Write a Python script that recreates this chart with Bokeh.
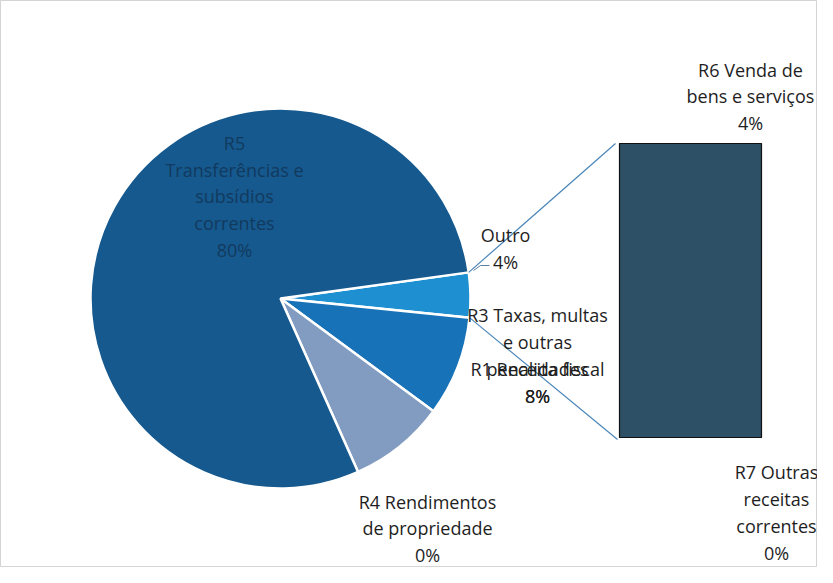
import math
from bokeh.plotting import figure
from bokeh.models import Range1d, ColumnDataSource
from bokeh.core.properties import value
from bokeh.embed import file_html
from bokeh.resources import INLINE

# ---- data ----
pie_categories = ["Outro", "R3 Taxas, multas e outras penalidades", "R1 Receita fiscal",
                  "R4 Rendimentos de propriedade", "R5 Transferências e subsídios correntes"]
pie_values = [3.8, 8.5, 8.2, 0.0, 79.5]
pie_colors = ["#1e8fd0", "#1872b8", "#819cc0", "#6d89ad", "#15598e"]

bar_categories = ["R7 Outras receitas correntes", "R6 Venda de bens e serviços"]
bar_values = [0.0, 3.8]

label_texts = {
    "R5": "R5\nTransferências e\nsubsídios\ncorrentes\n80%",
    "Outro": "Outro\n4%",
    "R3": "R3 Taxas, multas\ne outras\npenalidades\n8%",
    "R1": "R1 Receita fiscal\n8%",
    "R4": "R4 Rendimentos\nde propriedade\n0%",
    "R6": "R6 Venda de\nbens e serviços\n4%",
    "R7": "R7 Outras\nreceitas\ncorrentes\n0%",
}

# ---- layout (pixel space, y up) ----
W, H = 817, 567
def px(x, y):
    return x, H - y

cx, cy = px(280, 298)
R = 190
a0 = math.radians(7.9)

total = sum(pie_values)
starts, ends, cols, cats = [], [], [], []
cum = 0.0
slice_start = {}
slice_end = {}
for v, col, cat in zip(pie_values, pie_colors, pie_categories):
    e = a0 - cum / total * 2 * math.pi
    cum += v
    s = a0 - cum / total * 2 * math.pi
    slice_start[cat] = s
    slice_end[cat] = e
    if v > 0:  # a zero-width wedge would render as a full disc
        starts.append(s)
        ends.append(e)
        cols.append(col)
        cats.append(cat)

p = figure(width=W, height=H, output_backend="svg", toolbar_location=None,
           x_range=Range1d(0, W), y_range=Range1d(0, H), min_border=0)
p.axis.visible = False
p.grid.visible = False
p.outline_line_color = "#d4d4d4"
p.background_fill_color = "white"

src = ColumnDataSource(dict(start=starts, end=ends, color=cols, cat=cats))
p.wedge(x=cx, y=cy, radius=R, start_angle="start", end_angle="end", fill_color="color",
        line_color="white", line_width=2.5, source=src)

# bar of "Outro"
bx0, by_top = px(619, 143)
bx1, by_bot = px(761, 437)
bar_h = by_top - by_bot
btot = sum(bar_values)
bottoms, tops = [], []
c = 0.0
for v in bar_values:
    bottoms.append(by_bot + c / btot * bar_h)
    c += v
    tops.append(by_bot + c / btot * bar_h)
bsrc = ColumnDataSource(dict(left=[bx0] * len(bar_values), right=[bx1] * len(bar_values),
                             bottom=bottoms, top=tops))
p.quad(left="left", right="right", bottom="bottom", top="top", source=bsrc,
       fill_color="#2d5067", line_color="#111111", line_width=1.2)

# connector lines from "Outro" slice edges to the bar
oa_top = slice_end["Outro"]
oa_bot = slice_start["Outro"]
p.segment(x0=[cx + R * math.cos(oa_top), cx + R * math.cos(oa_bot)],
          y0=[cy + R * math.sin(oa_top), cy + R * math.sin(oa_bot)],
          x1=[bx0 - 4, bx0 - 2], y1=[by_top, by_bot - 2],
          line_color="#4a86b8", line_width=1.2)

# small leader for "Outro" label
lx0, ly0 = px(473, 270)
lx1, ly1 = px(480, 265)
lx2, ly2 = px(489, 265)
p.line(x=[lx0, lx1, lx2], y=[ly0, ly1, ly2], line_color="#5a7fa0", line_width=1)

FONT = value("Open Sans")
FS = "18px"
LH = 1.12

def label(key, x, y, color="#1e1e1e", align="center"):
    X, Y = px(x, y)
    p.text(x=[X], y=[Y], text=[label_texts[key]], text_font=FONT, text_font_size=FS,
           text_align=align, text_baseline="middle", text_color=color, text_line_height=LH)

label("R5", 234, 196, color="#123a5e")
label("Outro", 505, 248)
label("R3", 537, 355)
label("R1", 537, 382)
label("R4", 427, 528)
label("R6", 750, 96)
label("R7", 776, 512)

open("out.html", "w").write(file_html(p, INLINE))
